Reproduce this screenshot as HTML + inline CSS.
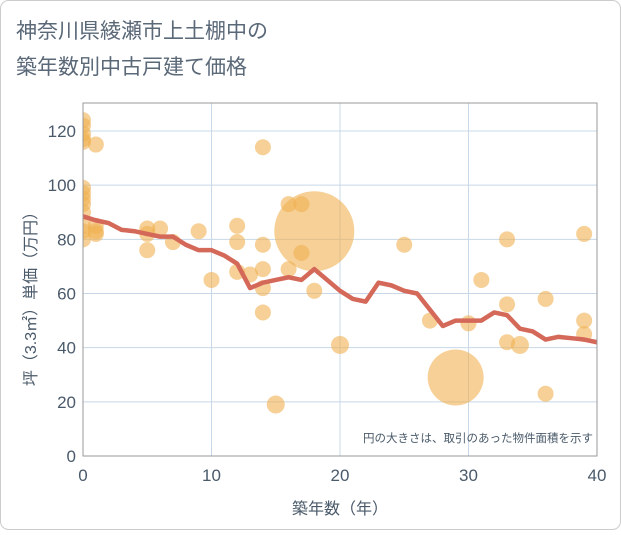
<!DOCTYPE html>
<html><head><meta charset="utf-8"><style>
body{margin:0;background:#fff;}
svg text{font-family:"Liberation Sans","Noto Sans CJK JP",sans-serif;}
</style></head><body>
<svg width="621" height="530">
<defs><clipPath id="plotclip"><rect x="83" y="103" width="514" height="353"/></clipPath></defs>
<rect x="0.5" y="0.5" width="620" height="529" rx="8" fill="#fff" stroke="#ccc"/>
<text x="16" y="38" font-size="21" fill="#5a6878">神奈川県綾瀬市上土棚中の</text>
<text x="16" y="74" font-size="21" fill="#5a6878">築年数別中古戸建て価格</text>
<g id="grid"></g>
<g id="bubbles" clip-path="url(#plotclip)"></g>
<g id="line"></g>
<g id="axes"></g>
<text x="593" y="442" font-size="11.5" fill="#4a5a6a" text-anchor="end">円の大きさは、取引のあった物件面積を示す</text>
<text x="340" y="514" font-size="16" fill="#4a5a6a" text-anchor="middle">築年数（年）</text>
<text transform="translate(36,295) rotate(-90)" font-size="16" fill="#4a5a6a" text-anchor="middle">坪（3.3㎡）単価（万円）</text>
</svg>
<script>
const xTicks=[0,10,20,30,40];
const yTicks=[0,20,40,60,80,100,120];
const lineYears=[0,1,2,3,4,5,6,7,8,9,10,11,12,13,14,15,16,17,18,19,20,21,22,23,24,25,26,27,28,29,30,31,32,33,34,35,36,37,38,39,40];
const lineValues=[88.5,87,86,83.5,83,82,81,81,78,76,76,74,71,62,64,65,66,65,69,65,61,58,57,64,63,61,60,54,48,50,50,50,53,52,47,46,43,44,43.5,43,42];
const bubbleX=[0,0,0,0,0,0,0,0,0,0,0,0,0,1,1,1,1,5,5,5,6,7,9,10,12,12,12,13,14,14,14,14,14,15,16,16,17,17,18,18,20,25,27,29,30,31,33,33,33,34,36,36,39,39,39];
const bubbleY=[124,122,119,117,116,99,97,95,93,90,85,83,80,115,85,83,82,84,82,76,84,79,83,65,85,79,68,67,114,78,69,62,53,19,93,69,93,75,83,61,41,78,50,29,49,65,80,56,42,41,58,23,82,50,45];
const bubbleSize=[8,8,8,8,8,8,8,8,8,8,8,8,8,8,8,8,8,8,8,8,8,8,8,8,8,8,8,8,8,8,8,8,8,9,8,8,8,8,40,8,9,8,8,28,8,8,8,8,8,9,8,8,8,8,8];
const NS='http://www.w3.org/2000/svg';
const X0=83,X1=597,Y0=456,YT=103;
const xs=v=>X0+(X1-X0)*v/40;
const ys=v=>Y0-(Y0-131)*v/120;
function mk(t,a,p){const e=document.createElementNS(NS,t);for(const k in a)e.setAttribute(k,a[k]);p.appendChild(e);return e;}
const grid=document.getElementById('grid'),axes=document.getElementById('axes');
xTicks.forEach(t=>{const l=mk('line',{x1:xs(t),x2:xs(t),y1:YT,y2:Y0,stroke:'#c8d8e8'},grid);


const tx=mk('text',{x:xs(t),y:Y0+25,'font-size':17,fill:'#4a5a6a','text-anchor':'middle'},axes);tx.textContent=t;

});
yTicks.forEach(t=>{const l=mk('line',{x1:X0,x2:X1,y1:ys(t),y2:ys(t),stroke:'#c8d8e8'},grid);


const tx=mk('text',{x:X0-7,y:ys(t)+6,'font-size':17,fill:'#4a5a6a','text-anchor':'end'},axes);tx.textContent=t;

});
const fr=mk('rect',{x:X0,y:YT,width:X1-X0,height:Y0-YT,fill:'none',stroke:'#999'},axes);


const bg=document.getElementById('bubbles');
bubbleX.forEach((x,i)=>{const c=mk('circle',{cx:xs(x),cy:ys(bubbleY[i]),r:bubbleSize[i],fill:'#f0b050','fill-opacity':0.6},bg);

});
const pl=mk('polyline',{points:lineYears.map((y,i)=>xs(y)+','+ys(lineValues[i])).join(' '),fill:'none',stroke:'#d4695a','stroke-width':4.5,'stroke-linejoin':'round'},document.getElementById('line'));


</script>
</body></html>
